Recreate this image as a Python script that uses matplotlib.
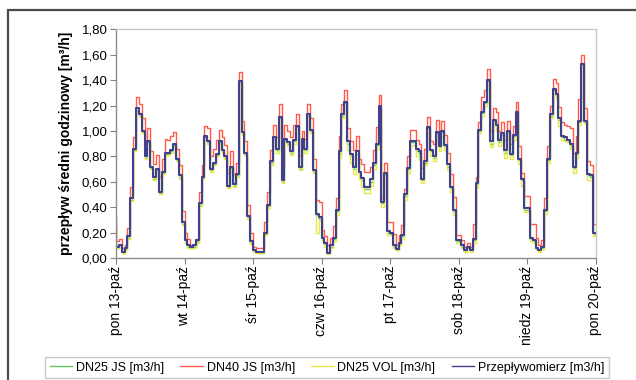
import matplotlib
matplotlib.use("Agg")
import matplotlib.pyplot as plt
from matplotlib.ticker import FuncFormatter, MultipleLocator
from matplotlib.patches import Rectangle
import numpy as np

plt.rcParams['font.family'] = ['Liberation Sans', 'DejaVu Sans']

day_labels = ["pon 13-paź", "wt 14-paź", "śr 15-paź", "czw 16-paź",
              "pt 17-paź", "sob 18-paź", "niedz 19-paź", "pon 20-paź"]

series_names = ["DN25 JS [m3/h]", "DN40 JS [m3/h]", "DN25 VOL [m3/h]", "Przepływomierz [m3/h]"]

# hourly values (first value = starting point of the step line)
przeplywomierz = [0.25,
    0.09, 0.10, 0.05, 0.08, 0.17, 0.47, 0.86, 1.18, 1.13, 1.00, 0.80, 0.92, 0.72, 0.64, 0.70, 0.52, 0.68, 0.83, 0.83, 0.85, 0.90, 0.78, 0.65, 0.28,
    0.14, 0.10, 0.09, 0.10, 0.14, 0.43, 0.64, 0.96, 0.92, 0.70, 0.75, 0.82, 0.92, 0.85, 0.80, 0.57, 0.72, 0.58, 0.66, 1.39, 0.99, 0.83, 0.33, 0.13,
    0.06, 0.05, 0.05, 0.05, 0.20, 0.42, 0.76, 0.95, 0.86, 1.11, 0.61, 0.94, 0.91, 0.84, 0.93, 1.04, 0.72, 0.94, 0.86, 1.13, 1.01, 0.69, 0.35, 0.32,
    0.16, 0.12, 0.04, 0.10, 0.16, 0.38, 0.84, 1.13, 1.23, 0.92, 0.82, 0.72, 0.84, 0.68, 0.63, 0.56, 0.56, 0.62, 0.75, 0.90, 1.20, 0.44, 0.67, 0.21,
    0.20, 0.10, 0.07, 0.12, 0.18, 0.50, 0.71, 0.92, 0.92, 0.86, 0.84, 0.62, 0.76, 1.03, 0.85, 0.80, 0.99, 0.88, 1.00, 0.89, 0.74, 0.56, 0.38, 0.14,
    0.14, 0.10, 0.06, 0.09, 0.06, 0.15, 0.59, 1.01, 1.15, 1.23, 1.40, 0.92, 1.09, 1.05, 0.93, 0.98, 0.85, 1.00, 0.82, 0.97, 1.15, 0.78, 0.62, 0.39,
    0.39, 0.16, 0.14, 0.08, 0.06, 0.09, 0.38, 0.78, 1.13, 1.33, 1.29, 1.10, 0.96, 0.95, 0.93, 0.90, 0.72, 0.83, 1.08, 1.53, 1.08, 0.66, 0.65, 0.20]

dn40_js = [0.32,
    0.13, 0.15, 0.08, 0.10, 0.24, 0.56, 0.95, 1.27, 1.21, 1.10, 0.90, 1.02, 0.84, 0.74, 0.81, 0.64, 0.78, 0.94, 0.93, 0.96, 0.99, 0.86, 0.73, 0.37,
    0.20, 0.15, 0.10, 0.10, 0.15, 0.52, 0.73, 1.04, 1.02, 0.80, 0.86, 0.93, 1.01, 0.95, 0.89, 0.67, 0.84, 0.66, 0.75, 1.46, 1.08, 0.92, 0.42, 0.20,
    0.09, 0.08, 0.08, 0.08, 0.28, 0.52, 0.85, 1.05, 0.95, 1.21, 0.71, 1.05, 1.00, 0.95, 1.05, 1.13, 0.80, 1.00, 0.94, 1.21, 1.10, 0.78, 0.46, 0.44,
    0.22, 0.17, 0.10, 0.16, 0.25, 0.47, 0.96, 1.21, 1.32, 1.02, 0.92, 0.85, 0.96, 0.78, 0.74, 0.68, 0.68, 0.72, 0.85, 1.03, 1.28, 0.47, 0.75, 0.28,
    0.28, 0.19, 0.10, 0.18, 0.26, 0.54, 0.80, 1.01, 1.01, 0.93, 0.90, 0.71, 0.86, 1.11, 0.92, 0.90, 1.09, 0.99, 1.08, 0.97, 0.83, 0.66, 0.48, 0.18,
    0.18, 0.14, 0.09, 0.12, 0.09, 0.27, 0.64, 1.07, 1.27, 1.32, 1.49, 1.00, 1.18, 1.15, 1.00, 1.07, 0.93, 1.08, 0.90, 1.04, 1.23, 0.88, 0.67, 0.49,
    0.49, 0.27, 0.27, 0.16, 0.10, 0.14, 0.47, 0.88, 1.20, 1.41, 1.38, 1.19, 1.07, 1.05, 1.04, 1.02, 0.83, 0.96, 1.25, 1.60, 1.18, 0.76, 0.73, 0.27]

dn25_js = [0.24,
    0.08, 0.09, 0.04, 0.07, 0.16, 0.46, 0.85, 1.16, 1.12, 0.99, 0.79, 0.91, 0.71, 0.62, 0.69, 0.51, 0.67, 0.82, 0.82, 0.84, 0.89, 0.77, 0.63, 0.27,
    0.13, 0.09, 0.08, 0.09, 0.13, 0.42, 0.63, 0.95, 0.91, 0.69, 0.74, 0.81, 0.91, 0.84, 0.79, 0.56, 0.71, 0.57, 0.65, 1.38, 0.98, 0.82, 0.32, 0.12,
    0.05, 0.05, 0.04, 0.04, 0.19, 0.41, 0.75, 0.94, 0.85, 1.10, 0.60, 0.93, 0.90, 0.83, 0.92, 1.03, 0.70, 0.93, 0.85, 1.12, 1.00, 0.68, 0.34, 0.31,
    0.15, 0.11, 0.04, 0.09, 0.15, 0.37, 0.83, 1.12, 1.22, 0.90, 0.80, 0.70, 0.82, 0.66, 0.61, 0.54, 0.54, 0.60, 0.73, 0.89, 1.18, 0.43, 0.66, 0.20,
    0.19, 0.09, 0.06, 0.11, 0.17, 0.49, 0.70, 0.91, 0.91, 0.84, 0.82, 0.61, 0.75, 1.02, 0.84, 0.79, 0.98, 0.87, 0.99, 0.88, 0.72, 0.55, 0.37, 0.13,
    0.13, 0.09, 0.05, 0.08, 0.06, 0.14, 0.58, 1.00, 1.14, 1.22, 1.39, 0.90, 1.08, 1.03, 0.91, 0.97, 0.83, 0.99, 0.81, 0.96, 1.14, 0.77, 0.61, 0.38,
    0.38, 0.15, 0.13, 0.07, 0.06, 0.08, 0.37, 0.77, 1.12, 1.32, 1.28, 1.09, 0.95, 0.93, 0.92, 0.88, 0.71, 0.82, 1.07, 1.52, 1.07, 0.65, 0.64, 0.19]

dn25_vol = [0.23,
    0.08, 0.09, 0.04, 0.06, 0.15, 0.45, 0.84, 1.15, 1.11, 0.98, 0.78, 0.90, 0.70, 0.61, 0.68, 0.50, 0.66, 0.81, 0.81, 0.83, 0.88, 0.76, 0.62, 0.26,
    0.12, 0.08, 0.08, 0.08, 0.12, 0.41, 0.62, 0.94, 0.90, 0.68, 0.73, 0.80, 0.90, 0.83, 0.78, 0.55, 0.70, 0.56, 0.64, 1.37, 0.97, 0.81, 0.31, 0.11,
    0.05, 0.04, 0.04, 0.04, 0.18, 0.39, 0.73, 0.92, 0.83, 1.08, 0.59, 0.91, 0.88, 0.81, 0.90, 1.01, 0.69, 0.91, 0.83, 1.10, 0.98, 0.67, 0.20, 0.29,
    0.13, 0.09, 0.03, 0.08, 0.13, 0.34, 0.79, 1.10, 1.19, 0.85, 0.75, 0.66, 0.78, 0.62, 0.56, 0.51, 0.51, 0.57, 0.70, 0.86, 1.16, 0.40, 0.62, 0.18,
    0.18, 0.08, 0.06, 0.10, 0.15, 0.46, 0.67, 0.88, 0.89, 0.80, 0.77, 0.59, 0.73, 0.99, 0.80, 0.76, 0.95, 0.84, 0.96, 0.85, 0.69, 0.52, 0.34, 0.12,
    0.12, 0.08, 0.05, 0.07, 0.05, 0.12, 0.55, 0.98, 1.12, 1.20, 1.37, 0.87, 1.05, 1.00, 0.88, 0.94, 0.79, 0.96, 0.78, 0.93, 1.13, 0.74, 0.57, 0.36,
    0.36, 0.13, 0.12, 0.07, 0.05, 0.07, 0.35, 0.75, 1.10, 1.28, 1.25, 1.04, 0.93, 0.92, 0.91, 0.86, 0.67, 0.79, 1.05, 1.52, 1.06, 0.61, 0.61, 0.17]

colors = ["#5ecb5e", "#ff5a4a", "#e8e84a", "#40408f"]
widths = [1.0, 1.0, 1.0, 1.5]

fig = plt.figure(figsize=(6.36, 3.80), dpi=100)
fig.patch.set_facecolor("white")

# outer frame
fig.patches.append(Rectangle((8 / 636, -0.2), 1.2, 1.2 - 10 / 380,
                             transform=fig.transFigure, fill=False,
                             edgecolor="#4a4a4a", linewidth=1.6))

ax = fig.add_axes([116 / 636, 1 - 258 / 380, (595.5 - 116) / 636, (258 - 29.3) / 380])

hours = np.arange(len(przeplywomierz))
data = [dn25_js, dn40_js, dn25_vol, przeplywomierz]
for vals, name, c, w in zip(data, series_names, colors, widths):
    ax.plot(hours, vals, drawstyle="steps-pre", color=c, linewidth=w, label=name)

ax.set_xlim(0, 168)
ax.set_ylim(0, 1.8)
ax.yaxis.set_major_locator(MultipleLocator(0.2))
ax.yaxis.set_major_formatter(FuncFormatter(lambda v, p: f"{v:.2f}".replace(".", ",")))
ax.set_xticks(np.arange(0, 169, 24))
ax.set_xticklabels(day_labels, rotation=90, fontsize=10)
ax.tick_params(axis="y", labelsize=9.5, length=4, color="#808080", pad=2)
ax.tick_params(axis="x", length=4, color="#808080", pad=1.5)

for s in ["left", "bottom"]:
    ax.spines[s].set_color("#8c8c8c")
    ax.spines[s].set_linewidth(1.0)
for s in ["top", "right"]:
    ax.spines[s].set_color("#c8c8c8")
    ax.spines[s].set_linewidth(1.0)

ax.set_ylabel("przepływ średni godzinowy [m³/h]", fontsize=10, fontweight="bold", labelpad=6)

leg = fig.legend(loc="center", bbox_to_anchor=(327 / 636, 1 - 367.5 / 380), ncol=4,
                 fontsize=9, frameon=True, fancybox=False, handlelength=1.8,
                 handletextpad=0.3, columnspacing=1.3, borderpad=0.35, borderaxespad=0)
leg.get_frame().set_edgecolor("#bdbdbd")
leg.get_frame().set_linewidth(1.0)
for line in leg.get_lines():
    line.set_linewidth(1.0)

fig.savefig("out.png", dpi=100, facecolor="white")
